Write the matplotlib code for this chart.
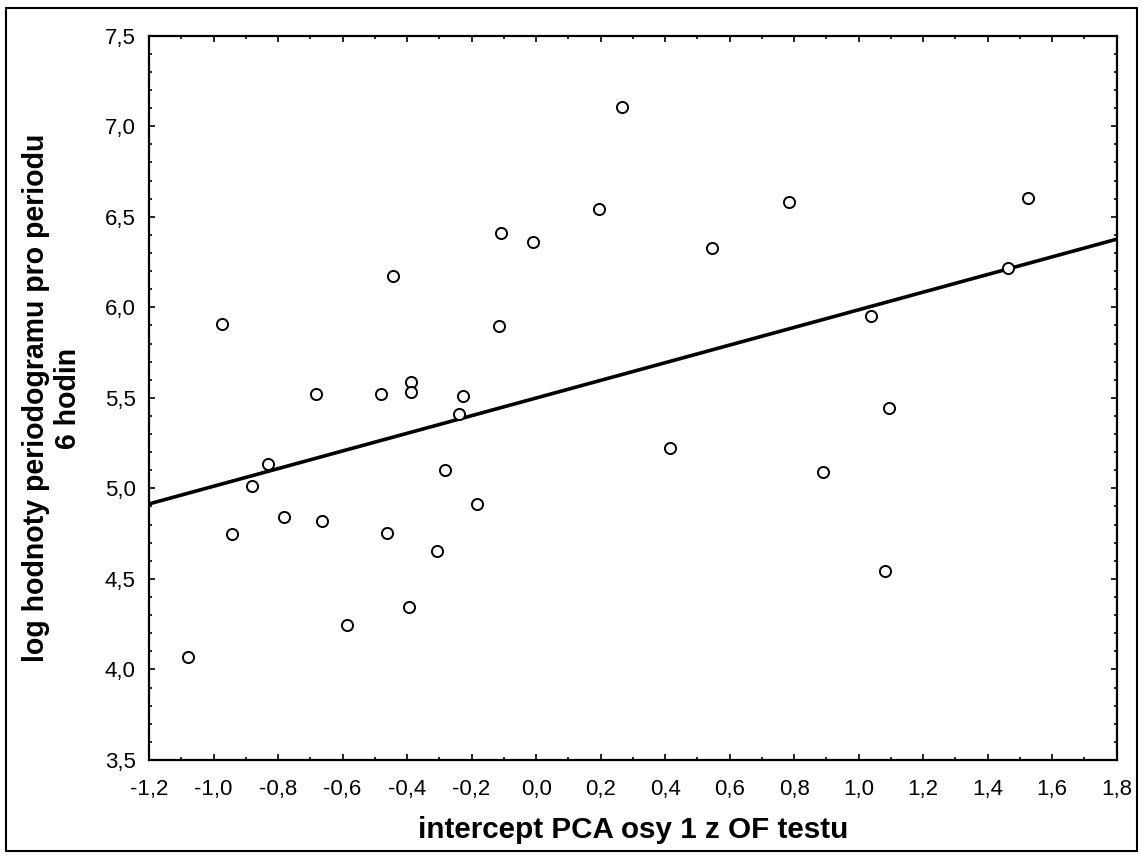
import numpy as np
import matplotlib
matplotlib.use("Agg")
import matplotlib.pyplot as plt
from matplotlib.ticker import MultipleLocator, FuncFormatter
from matplotlib.patches import Rectangle

plt.rcParams['font.family'] = ['Liberation Sans', 'DejaVu Sans']

# data
x_vals = [0.265, 0.783, 0.546, 1.037, 1.524, 1.462, 1.094, 0.415, 0.888, 1.081,
          0.195, -0.109, -0.009, -0.445, -0.974, -0.116, -0.681, -0.482, -0.389,
          -0.389, -0.227, -0.239, -0.831, -0.880, -0.283, -0.183, -0.782, -0.663,
          -0.943, -0.463, -0.308, -0.395, -0.587, -1.080]
y_vals = [7.105, 6.583, 6.329, 5.954, 6.605, 6.219, 5.446, 5.222, 5.089, 4.546,
          6.542, 6.409, 6.363, 6.175, 5.910, 5.899, 5.522, 5.522, 5.588,
          5.534, 5.511, 5.411, 5.133, 5.012, 5.100, 4.912, 4.844, 4.822,
          4.747, 4.756, 4.656, 4.345, 4.246, 4.069]
fit_intercept = 5.499
fit_slope = 0.4873

x_label = "intercept PCA osy 1 z OF testu"
y_label_lines = ["log hodnoty periodogramu pro periodu", "6 hodin"]
x_lim = (-1.2, 1.8)
y_lim = (3.5, 7.5)

W, H = 1142, 856
fig = plt.figure(figsize=(W / 100, H / 100), dpi=100)
ax = fig.add_axes([149 / W, 1 - 760 / H, (1116.7 - 149) / W, (760 - 35.7) / H])

ax.plot(x_vals, y_vals, linestyle='none', marker='o', markersize=8,
        markerfacecolor='white', markeredgecolor='black', markeredgewidth=1.4,
        zorder=3)
xl = np.array(x_lim)
ax.plot(xl, fit_intercept + fit_slope * xl, color='black', lw=2.6, zorder=2,
        solid_capstyle='butt')

ax.set_xlim(*x_lim)
ax.set_ylim(*y_lim)
ax.xaxis.set_major_locator(MultipleLocator(0.2))
ax.xaxis.set_minor_locator(MultipleLocator(0.1))
ax.yaxis.set_major_locator(MultipleLocator(0.5))
ax.yaxis.set_minor_locator(MultipleLocator(0.1))

def fmt(v, pos):
    if abs(v) < 1e-9:
        v = 0.0
    return f"{v:.1f}".replace('.', ',')

ax.xaxis.set_major_formatter(FuncFormatter(fmt))
ax.yaxis.set_major_formatter(FuncFormatter(fmt))

ax.tick_params(which='both', direction='in', top=True, right=True,
               width=1.2, labelsize=16, colors='black')
ax.tick_params(which='major', length=4.5)
ax.tick_params(which='minor', length=2.5)
ax.tick_params(axis='x', pad=13.5)
ax.tick_params(axis='y', pad=9.5)
for s in ax.spines.values():
    s.set_linewidth(1.6)

renderer = fig.canvas.get_renderer()

def fit_size(t, target_px, horizontal=True):
    for _ in range(3):
        bb = t.get_window_extent(renderer)
        cur = bb.width if horizontal else bb.height
        t.set_fontsize(t.get_fontsize() * target_px / cur)

xt = fig.text(633 / W, 1 - 830 / H, x_label, ha='center', va='center',
              fontsize=17, fontweight='bold')
fit_size(xt, 430, True)

yt = fig.text(52 / W, 1 - 398 / H, "\n".join(y_label_lines), ha='center',
              va='center', rotation=90, fontsize=17, fontweight='bold',
              multialignment='center', linespacing=1.15)
fit_size(yt, 530, False)

fig.patches.append(Rectangle((6 / W, 1 - 851 / H), (1137 - 6) / W, (851 - 8) / H,
                             transform=fig.transFigure, fill=False,
                             edgecolor='black', linewidth=1.5))

fig.savefig("out.png", dpi=100)
